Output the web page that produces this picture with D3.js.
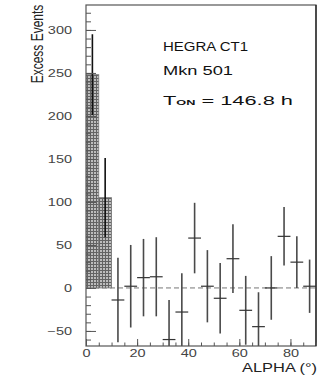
<!DOCTYPE html>
<html>
<head>
<meta charset="utf-8">
<script src="https://cdn.jsdelivr.net/npm/d3@7"></script>
<style>
  html, body { margin: 0; padding: 0; background: #fff; }
  svg { display: block; }
  text { font-family: "Liberation Sans", Arial, Helvetica, sans-serif; }
</style>
</head>
<body>
<svg id="chart" width="327" height="382"></svg>
<script>
// ---- data ----
const binLowEdges = [0, 5, 10, 15, 20, 25, 30, 35, 40, 45, 50, 55, 60, 65, 70, 75, 80, 85];
const binWidth = 5;
const excessEvents = [248, 105, -14, 2, 12, 13, -60, -28, 58, 2, -12, 34, -26, -45, 0, 60, 30, 2];
const excessErrors = [47, 46, 49, 48, 45, 46, 46, 45, 41, 42, 41, 40, 40, 40, 37, 34, 30, 31];
const signalBins = 2; // first bins drawn as hatched histogram
const yTickValues = [-50, 0, 50, 100, 150, 200, 250, 300];
const xTickValues = [0, 20, 40, 60, 80];
const infoLines = ["HEGRA CT1", "Mkn 501"];
const onTime = "146.8 h";

(function () {
// ---- layout ----
const svg = d3.select("#chart");
const pLeft = 86, pRight = 316, pTop = 5, pBottom = 346;
const x = d3.scaleLinear().domain([0, 90]).range([pLeft, pRight]);
const y = d3.scaleLinear().domain([-67.5, 329]).range([pBottom, pTop]);
const textScale = 1.45;

const defs = svg.append("defs");
const pat = defs.append("pattern").attr("id", "hatch").attr("patternUnits", "userSpaceOnUse")
  .attr("width", 3).attr("height", 3);
pat.append("rect").attr("width", 3).attr("height", 3).attr("fill", "#bdbdbd");
pat.append("path").attr("d", "M0,0.5H3M0.5,0V3").attr("stroke", "#636363").attr("stroke-width", 1);
defs.append("clipPath").attr("id", "plotclip").append("rect")
  .attr("x", pLeft).attr("y", pTop).attr("width", pRight - pLeft).attr("height", pBottom - pTop);

const data = binLowEdges.map((lo, i) => ({ lo, hi: lo + binWidth, v: excessEvents[i], e: excessErrors[i], i }));

const plot = svg.append("g").attr("clip-path", "url(#plotclip)");

// zero dashed line
plot.append("line").attr("x1", x(0)).attr("x2", x(90)).attr("y1", y(0)).attr("y2", y(0))
  .attr("stroke", "#777").attr("stroke-width", 1).attr("stroke-dasharray", "5,3");

// hatched signal bars
plot.selectAll("rect.bar").data(data.filter(d => d.i < signalBins)).join("rect")
  .attr("class", "bar")
  .attr("x", d => x(d.lo)).attr("width", d => x(d.hi) - x(d.lo))
  .attr("y", d => y(d.v)).attr("height", d => y(0) - y(d.v))
  .attr("fill", "url(#hatch)").attr("stroke", "#777").attr("stroke-width", 0.8);

// error bars for every bin
plot.selectAll("line.ev").data(data).join("line").attr("class", "ev")
  .attr("x1", d => x(d.lo + binWidth / 2)).attr("x2", d => x(d.lo + binWidth / 2))
  .attr("y1", d => y(d.v + d.e)).attr("y2", d => y(d.v - d.e))
  .attr("stroke", d => d.i < signalBins ? "#111" : "#4a4a4a").attr("stroke-width", 1.6);
plot.selectAll("line.eh").data(data.filter(d => d.i >= signalBins)).join("line").attr("class", "eh")
  .attr("x1", d => x(d.lo)).attr("x2", d => x(d.hi))
  .attr("y1", d => y(d.v)).attr("y2", d => y(d.v))
  .attr("stroke", "#333").attr("stroke-width", 1.2);

// frame
svg.append("rect").attr("x", pLeft).attr("y", pTop).attr("width", pRight - pLeft).attr("height", pBottom - pTop)
  .attr("fill", "none").attr("stroke", "#555").attr("stroke-width", 1.2);
svg.append("line").attr("x1", pRight).attr("x2", pRight).attr("y1", pTop).attr("y2", pBottom)
  .attr("stroke", "#222").attr("stroke-width", 1.3);

// y axis (ticks inward)
const gY = svg.append("g").attr("transform", `translate(${pLeft},0)`);
gY.append("g").call(d3.axisLeft(y).tickValues(d3.range(-60, 330, 10)).tickSize(-5).tickFormat(""));
gY.append("g").call(d3.axisLeft(y).tickValues(yTickValues).tickSize(-10).tickPadding(14));
gY.selectAll(".domain").remove();
gY.selectAll(".tick line").attr("stroke", "#555");
gY.selectAll(".tick text").attr("x", 0)
  .attr("transform", `translate(-14,0) scale(${textScale},1)`)
  .attr("font-size", 10).attr("fill", "#444");
gY.selectAll("g").attr("font-family", null);

// x axis (ticks inward)
const gX = svg.append("g").attr("transform", `translate(0,${pBottom})`);
gX.append("g").call(d3.axisBottom(x).tickValues(d3.range(0, 91, 5)).tickSize(-3.5).tickFormat(""));
gX.append("g").call(d3.axisBottom(x).tickValues(xTickValues).tickSize(-7).tickPadding(4));
gX.selectAll(".domain").remove();
gX.selectAll(".tick line").attr("stroke", "#555");
gX.selectAll(".tick text").attr("y", 0)
  .attr("transform", `translate(0,3.5) scale(${textScale},1)`)
  .attr("font-size", 10).attr("fill", "#444");
gX.selectAll("g").attr("font-family", null);

// axis titles
svg.append("text").attr("transform", "translate(43,44) rotate(-90) scale(1,1.3)")
  .attr("text-anchor", "middle").attr("font-size", 12).attr("fill", "#222")
  .text("Excess Events");
svg.append("text").attr("x", 242).attr("y", 372)
  .attr("font-size", 12.5).attr("fill", "#222")
  .attr("textLength", 75).attr("lengthAdjust", "spacingAndGlyphs")
  .text("ALPHA (°)");

// info text
const info = svg.append("g").attr("fill", "#111");
info.append("text").attr("x", 163).attr("y", 51).attr("font-size", 12)
  .attr("textLength", 85).attr("lengthAdjust", "spacingAndGlyphs").text(infoLines[0]);
info.append("text").attr("x", 163).attr("y", 75).attr("font-size", 12)
  .attr("textLength", 70).attr("lengthAdjust", "spacingAndGlyphs").text(infoLines[1]);
const t3 = info.append("text").attr("x", 163).attr("y", 105).attr("font-size", 12)
  .attr("textLength", 130).attr("lengthAdjust", "spacingAndGlyphs");
t3.append("tspan").text("T");
t3.append("tspan").attr("font-size", 7).attr("font-weight", "bold").text("ON");
t3.append("tspan").text(" = " + onTime);
})();
</script>
</body>
</html>
